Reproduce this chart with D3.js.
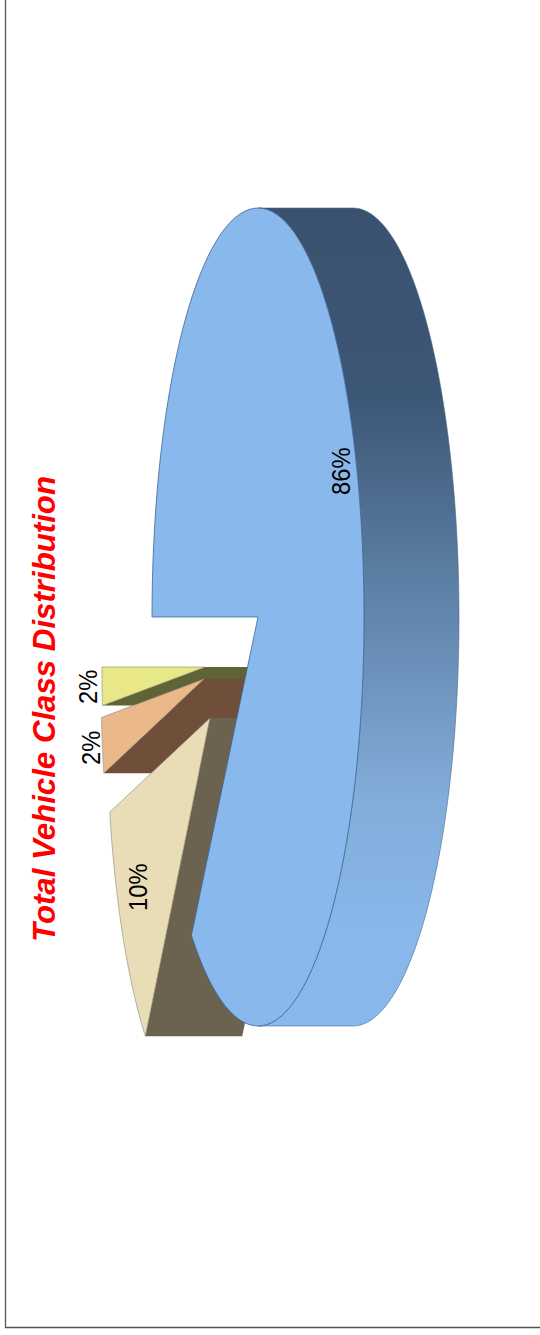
<!DOCTYPE html>
<html><head><meta charset="utf-8">
<style>html,body{margin:0;padding:0;background:#fff}svg{display:block}</style>
<script src="https://cdn.jsdelivr.net/npm/d3@7"></script></head>
<body><div id="c"></div>
<script>
// data (drawing order: pie order, clockwise from 9 o'clock)
const sliceValues = [85.9, 10.5, 2.2, 1.5];
const sliceLabels = ["86%", "10%", "2%", "2%"];
const faceColors = ["#89b9ec", "#e8ddb6", "#ebb88a", "#e8e888"];
const wallColors = ["#3a5472", "#6b6350", "#6f4f3a", "#5f6436"];
const titleText = "Total Vehicle Class Distribution";

// layout
const W = 540, H = 1335, ry = 409;
const radiiX = [106, 103, 103, 103];
const depths = [95, 97, 97, 97];
const tips = [[258,617],[210,718],[204,679],[205,667]];
const labelPos = [[350,495],[147,911],[100,765],[97,704]];

const svg = d3.select("#c").append("svg").attr("width",W).attr("height",H);
const defs = svg.append("defs");
const grad = defs.append("linearGradient").attr("id","wall")
  .attr("gradientUnits","userSpaceOnUse").attr("x1",0).attr("x2",0).attr("y1",208).attr("y2",1026);
[[0,"#3a5270"],[0.23,"#3c5675"],[0.5,"#6287ae"],[0.72,"#82acd9"],[0.88,"#88b7ea"],[1,"#88b8ec"]]
  .forEach(([o,c])=>grad.append("stop").attr("offset",o).attr("stop-color",c));

// frame
svg.append("path").attr("d",d3.line()([[5.5,0],[5.5,1327.5],[W,1327.5]]))
  .attr("fill","none").attr("stroke","#555").attr("stroke-width",1.3);

const arcs = d3.pie().sort(null).startAngle(-Math.PI/2).endAngle(1.5*Math.PI)(sliceValues);
const pt = (a,i,dx=0)=>{
  const sx = d3.scaleLinear([-1,1],[tips[i][0]-radiiX[i]+dx,tips[i][0]+radiiX[i]+dx]);
  const sy = d3.scaleLinear([-1,1],[tips[i][1]-ry,tips[i][1]+ry]);
  return [sx(Math.sin(a)), sy(-Math.cos(a))];
};
const line = d3.line();
const arcPts = (a0,a1,i,dx=0)=>d3.range(0,121).map(k=>pt(a0+(a1-a0)*k/120,i,dx));

// back to front: yellow, orange, tan, blue
[3,2,1].forEach(i=>{
  const a = arcs[i];
  const tip = tips[i], e = pt(a.startAngle,i), depth = depths[i];
  svg.append("path").attr("d",line([tip,e,[e[0]+depth,e[1]],[tip[0]+depth,tip[1]]])+"Z")
    .attr("fill",wallColors[i]);
  svg.append("path").attr("d",line([tip,...arcPts(a.startAngle,a.endAngle,i)])+"Z")
    .attr("fill",faceColors[i]).attr("stroke","#8f8a76").attr("stroke-width",0.8).attr("stroke-opacity",.8);
});
// main slice
const b = arcs[0];
svg.append("path")
  .attr("d",line([...arcPts(0,Math.PI,0),...arcPts(Math.PI,0,0,depths[0])])+"Z")
  .attr("fill","url(#wall)").attr("stroke","#4a6a8c").attr("stroke-width",.6);
svg.append("path").attr("d",line([tips[0],...arcPts(b.startAngle,b.endAngle,0)])+"Z")
  .attr("fill",faceColors[0]).attr("stroke","#3f6594").attr("stroke-width",.8);

// text
svg.selectAll("text.l").data(sliceLabels).join("text").attr("class","l")
  .attr("transform",(d,i)=>`translate(${labelPos[i][0]},${labelPos[i][1]}) rotate(-90) scale(0.95,1.06)`)
  .attr("font-family","'Liberation Sans',Arial,sans-serif").attr("font-size",25).attr("fill","#000").text(d=>d);
svg.append("text").attr("transform","translate(55,942) rotate(-90)")
  .attr("font-family","'Liberation Sans',Arial,sans-serif").attr("font-weight","bold").attr("font-style","italic")
  .attr("font-size",32).attr("fill","#f00").attr("textLength",466).attr("lengthAdjust","spacingAndGlyphs").text(titleText);
</script></body></html>
